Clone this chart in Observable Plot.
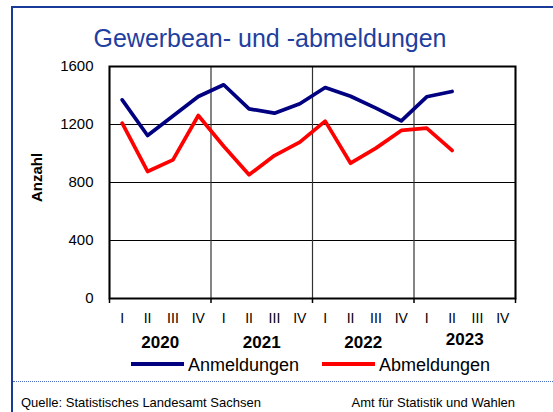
<!DOCTYPE html>
<html>
<head>
<meta charset="utf-8">
<script src="https://cdn.jsdelivr.net/npm/d3@7"></script>
<script src="https://cdn.jsdelivr.net/npm/@observablehq/plot@0.6"></script>
<style>
  html, body { margin: 0; padding: 0; background: #fff; }
  #wrap { position: relative; width: 553px; height: 412px; overflow: hidden; font-family: "Liberation Sans", Arial, sans-serif; }
  #wrap svg { position: absolute; left: 0; top: 0; }
  .abs { position: absolute; white-space: nowrap; }
</style>
</head>
<body>
<div id="wrap"></div>
<script>
const quarters = ["I", "II", "III", "IV"];
const years = ["2020", "2021", "2022", "2023"];
const anmeldungen = [1370, 1124, 1258, 1393, 1474, 1308, 1278, 1343, 1455, 1395, 1313, 1225, 1391, 1428];
const abmeldungen = [1209, 876, 956, 1262, 1050, 853, 986, 1078, 1223, 933, 1037, 1159, 1175, 1021];
const yTicks = [0, 400, 800, 1200, 1600];
const seriesNames = ["Anmeldungen", "Abmeldungen"];
const seriesColors = ["#000080", "#ff0000"];

const nQ = years.length * quarters.length;
const qIndex = d3.range(nQ);
const yearBounds = d3.range(years.length + 1).map(k => k * 4 - 0.5);
const yearCenters = years.map((_, k) => k * 4 + 1.5);
const rows = [];
anmeldungen.forEach((v, i) => rows.push({i, v, s: seriesNames[0]}));
abmeldungen.forEach((v, i) => rows.push({i, v, s: seriesNames[1]}));
const yearFmt = v => years[(v - 1.5) / 4];

const chart = Plot.plot({
  width: 553,
  height: 412,
  marginLeft: 109,
  marginRight: 38,
  marginTop: 66,
  marginBottom: 114,
  style: {fontFamily: "'Liberation Sans', Arial, sans-serif", fontSize: "15px", color: "#000", background: "transparent", overflow: "visible"},
  x: {domain: [-0.5, nQ - 0.5], axis: null},
  y: {domain: [0, 1600], axis: null},
  color: {domain: seriesNames, range: seriesColors},
  marks: [
    Plot.ruleY(yTicks, {stroke: "#000", strokeWidth: 1}),
    Plot.ruleX(yearBounds, {stroke: "#333", strokeWidth: 1.2}),
    Plot.frame({stroke: "#000", strokeWidth: 2}),
    Plot.axisY(yTicks, {label: null, tickSize: 0, tickPadding: 16, fontSize: 15, tickFormat: d => String(d)}),
    Plot.axisX(yearBounds, {label: null, tickSize: 5, tickFormat: () => "", strokeWidth: 1.5}),
    Plot.axisX(qIndex, {label: null, tickSize: 0, tickPadding: 15, fontSize: 14, tickFormat: i => quarters[i % 4]}),
    Plot.axisX(yearCenters.slice(0, 3), {label: null, tickSize: 0, tickPadding: 37, fontSize: 17, fontWeight: "bold", tickFormat: yearFmt}),
    Plot.axisX(yearCenters.slice(3), {label: null, tickSize: 0, tickPadding: 34, fontSize: 17, fontWeight: "bold", tickFormat: yearFmt}),
    Plot.text(["Anzahl"], {frameAnchor: "left", textAnchor: "middle", rotate: -90, dx: -72, dy: -5, fontSize: 15, fontWeight: "bold", fill: "#000"}),
    Plot.line(rows, {x: "i", y: "v", z: "s", stroke: "s", strokeWidth: 3.7, strokeLinejoin: "round"})
  ]
});

const wrap = document.getElementById("wrap");
wrap.appendChild(chart);

function addDiv(css, text) {
  const d = document.createElement("div");
  d.className = "abs";
  d.style.cssText = css;
  if (text != null) d.textContent = text;
  wrap.appendChild(d);
  return d;
}
// frame borders
addDiv("left:11px; top:6px; width:2px; height:406px; background:#1a3a99;");
addDiv("left:11px; top:6px; width:542px; height:2px; background:#1a3a99;");
// title
addDiv("left:0; top:26px; width:540px; text-align:center; font-size:25px; line-height:25px; color:#1f3f9f;", "Gewerbean- und -abmeldungen");
// legend
const legendX = [131, 322];
seriesNames.forEach((name, k) => {
  addDiv(`left:${legendX[k]}px; top:362px; width:53px; height:4px; background:${seriesColors[k]};`);
  addDiv(`left:${legendX[k] + 57}px; top:356px; font-size:18px; line-height:18px; color:#000;`, name);
});
// dotted separator
addDiv("left:13px; top:381px; width:540px; height:0; border-top:1px dotted #4a6fc0;");
// footer
addDiv("left:21px; top:396px; font-size:13px; line-height:13px; color:#000;", "Quelle: Statistisches Landesamt Sachsen");
addDiv("right:38px; top:396px; font-size:13px; line-height:13px; color:#000;", "Amt für Statistik und Wahlen");
</script>
</body>
</html>
